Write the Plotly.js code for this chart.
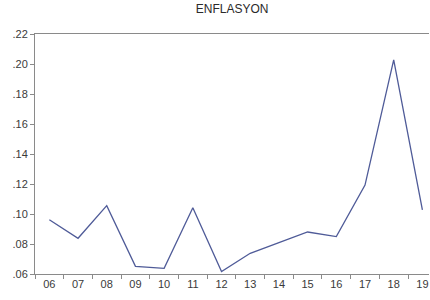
<!DOCTYPE html>
<html>
<head>
<meta charset="utf-8">
<script src="https://cdn.plot.ly/plotly-3.0.1.min.js"></script>
<style>html,body{margin:0;padding:0;background:#fff;}#chart{width:430px;height:300px;}</style>
</head>
<body>
<div id="chart"></div>
<script>
var years = ['06','07','08','09','10','11','12','13','14','15','16','17','18','19'];
var enflasyon = [0.0962, 0.0838, 0.1056, 0.0651, 0.0638, 0.1042, 0.0616, 0.0738, 0.0809, 0.0880, 0.0849, 0.1193, 0.2027, 0.1027];
var yTickVals = [0.06, 0.08, 0.10, 0.12, 0.14, 0.16, 0.18, 0.20, 0.22];
var yTickText = ['.06', '.08', '.10', '.12', '.14', '.16', '.18', '.20', '.22'];

var trace = {
  x: years, y: enflasyon, type: 'scatter', mode: 'lines',
  line: {color: '#4f5b98', width: 1.3}, hoverinfo: 'none'
};
var layout = {
  width: 430, height: 300,
  margin: {l: 35, r: 1, t: 34, b: 26},
  paper_bgcolor: '#ffffff', plot_bgcolor: '#ffffff',
  font: {family: 'Liberation Sans, Arial, sans-serif', size: 11, color: '#3a3a3a'},
  title: {text: 'ENFLASYON', x: 0.54, xanchor: 'center', y: 0.97, yanchor: 'middle',
          font: {size: 12, color: '#2a2a2a'}},
  showlegend: false,
  xaxis: {
    type: 'category', range: [-0.5, 13.23],
    showgrid: false, zeroline: false,
    showline: true, linecolor: '#8a8a8a', linewidth: 1, mirror: true,
    ticks: 'outside', ticklen: 4, tickcolor: '#8a8a8a', tickson: 'boundaries',
    tickfont: {size: 11, color: '#3a3a3a'}
  },
  yaxis: {
    range: [0.06, 0.22], tickvals: yTickVals, ticktext: yTickText,
    showgrid: false, zeroline: false,
    showline: true, linecolor: '#8a8a8a', linewidth: 1,
    ticks: 'outside', ticklen: 4, tickcolor: '#8a8a8a',
    tickfont: {size: 11, color: '#3a3a3a'}
  }
};
Plotly.newPlot('chart', [trace], layout, {staticPlot: true, displayModeBar: false});
</script>
</body>
</html>
